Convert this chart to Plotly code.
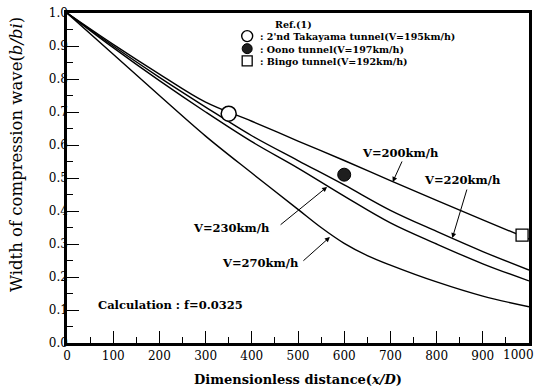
import plotly.graph_objects as go

# ---- data ----
x_calc = [0, 100, 200, 300, 400, 500, 600, 700, 800, 900, 1000]
v200 = [1.0, 0.905, 0.815, 0.73, 0.672, 0.612, 0.553, 0.492, 0.432, 0.373, 0.315]
v220 = [1.0, 0.90, 0.805, 0.715, 0.628, 0.553, 0.479, 0.402, 0.338, 0.277, 0.221]
v230 = [1.0, 0.895, 0.795, 0.70, 0.61, 0.53, 0.445, 0.364, 0.30, 0.24, 0.188]
x_270 = [0, 100, 200, 300, 400, 500, 550, 600, 650, 700, 800, 900, 1000]
v270 = [1.0, 0.875, 0.75, 0.627, 0.515, 0.405, 0.35, 0.302, 0.265, 0.236, 0.185, 0.142, 0.11]

meas_names = ["2'nd Takayama tunnel(V=195km/h)", "Oono tunnel(V=197km/h)", "Bingo tunnel(V=192km/h)"]
meas_x = [350, 600, 985]
meas_y = [0.695, 0.51, 0.327]

x_ticks = [0, 100, 200, 300, 400, 500, 600, 700, 800, 900, 1000]
y_ticks = [0.0, 0.1, 0.2, 0.3, 0.4, 0.5, 0.6, 0.7, 0.8, 0.9, 1.0]

SERIF = "DejaVu Serif"

fig = go.Figure()
for xs, ys in [(x_calc, v200), (x_calc, v220), (x_calc, v230), (x_270, v270)]:
    fig.add_trace(go.Scatter(x=xs, y=ys, mode="lines",
                             line=dict(color="black", width=1.4, shape="spline", smoothing=1.0),
                             showlegend=False, hoverinfo="skip"))

# measured points
fig.add_trace(go.Scatter(x=[meas_x[0]], y=[meas_y[0]], mode="markers",
                         marker=dict(symbol="circle", size=15, color="white",
                                     line=dict(color="black", width=1.5)), showlegend=False))
fig.add_trace(go.Scatter(x=[meas_x[1]], y=[meas_y[1]], mode="markers",
                         marker=dict(symbol="circle", size=13, color="#1e1e1e",
                                     line=dict(color="black", width=1)), showlegend=False))
fig.add_trace(go.Scatter(x=[meas_x[2]], y=[meas_y[2]], mode="markers",
                         marker=dict(symbol="square", size=12, color="white",
                                     line=dict(color="black", width=1.3)), showlegend=False,
                         cliponaxis=False))

ann = []
def txt(x, y, t, size=11.5, xanchor="center", bold=True, **kw):
    d = dict(x=x, y=y, xref="x", yref="y", text=("<b>%s</b>" % t) if bold else t,
             showarrow=False, xanchor=xanchor, yanchor="middle",
             font=dict(family=SERIF, size=size, color="black"))
    d.update(kw)
    ann.append(d)

def arrow(x, y, ax, ay):
    ann.append(dict(x=x, y=y, xref="x", yref="y", ax=ax, ay=ay, text="",
                    showarrow=True, arrowhead=2, arrowsize=1, arrowwidth=1, arrowcolor="black"))

txt(721, 0.576, "V=200km/h")
txt(857, 0.494, "V=220km/h")
txt(357, 0.348, "V=230km/h")
txt(418, 0.242, "V=270km/h")
txt(223, 0.115, "Calculation : f=0.0325", size=11.5)
arrow(705, 0.488, 10, -22)
arrow(834, 0.318, 15, -50)
arrow(563, 0.473, -48, 39)
arrow(569, 0.321, -28, 25)

# legend block (one multi-line text)
NB = "&nbsp;"
leg_text = (NB * 5 + "<b>Ref.(1)</b><br>" +
            "<br>".join("<b>: %s</b>" % n for n in meas_names))
ann.append(dict(x=414, y=0.988, xref="x", yref="y", text=leg_text, showarrow=False,
                xanchor="left", yanchor="top", align="left",
                font=dict(family=SERIF, size=9.5, color="black")))

# y axis title as rotated text
ann.append(dict(x=-0.108, y=0.57, xref="paper", yref="paper", textangle=-90,
                text="Width of compression wave(<i>b/bi</i>)", showarrow=False,
                xanchor="center", yanchor="middle",
                font=dict(family=SERIF, size=16.5, color="black")))

# last x tick label kept inside the picture
ann.append(dict(x=1.0, y=0, xref="paper", yref="paper", text=str(x_ticks[-1]), showarrow=False,
                xanchor="right", yanchor="top", xshift=7, yshift=-3,
                font=dict(family=SERIF, size=12, color="black")))

leg_y = [0.930, 0.892, 0.855]
shapes = [
    dict(type="circle", xref="x", yref="y", xsizemode="pixel", ysizemode="pixel",
         xanchor=390, yanchor=leg_y[0], x0=-5.5, x1=5.5, y0=-5.5, y1=5.5,
         line=dict(color="black", width=1.4), fillcolor="white"),
    dict(type="circle", xref="x", yref="y", xsizemode="pixel", ysizemode="pixel",
         xanchor=390, yanchor=leg_y[1], x0=-5, x1=5, y0=-5, y1=5,
         line=dict(color="black", width=1), fillcolor="#1e1e1e"),
    dict(type="rect", xref="x", yref="y", xsizemode="pixel", ysizemode="pixel",
         xanchor=390, yanchor=leg_y[2], x0=-5, x1=5, y0=-5, y1=5,
         line=dict(color="black", width=1.3), fillcolor="white"),
]

fig.update_layout(
    width=538, height=391, autosize=False,
    margin=dict(l=67, r=9, t=13, b=48, autoexpand=False),
    paper_bgcolor="white", plot_bgcolor="white",
    annotations=ann, shapes=shapes, showlegend=False,
    xaxis=dict(range=[0, 1000], tickvals=x_ticks,
               ticktext=[str(v) for v in x_ticks[:-1]] + [""],
               ticks="inside", ticklen=12, tickwidth=1.2, tickcolor="black",
               minor=dict(dtick=50, ticks="inside", ticklen=6, tickwidth=1.2, tickcolor="black"),
               showline=True, linewidth=2.5, linecolor="black", mirror=True,
               showgrid=False, zeroline=False, automargin=False,
               tickfont=dict(family=SERIF, size=12, color="black"),
               title=dict(text="<b>Dimensionless distance(<i>x/D</i>)</b>", standoff=13,
                          font=dict(family=SERIF, size=13, color="black"))),
    yaxis=dict(range=[0, 1.0], tickvals=y_ticks, ticktext=["%.1f" % v for v in y_ticks],
               ticks="inside", ticklen=12, tickwidth=1.2, tickcolor="black",
               minor=dict(dtick=0.05, ticks="inside", ticklen=6, tickwidth=1.2, tickcolor="black"),
               showline=True, linewidth=2.5, linecolor="black", mirror=True,
               showgrid=False, zeroline=False, automargin=False, ticklabeloverflow="allow",
               ticklabelstandoff=-6,
               tickfont=dict(family=SERIF, size=12, color="black")),
)

fig.write_html("out.html", config={"responsive": False, "displayModeBar": False},
               post_script="document.body.style.margin='0px';document.body.style.padding='0px';")
